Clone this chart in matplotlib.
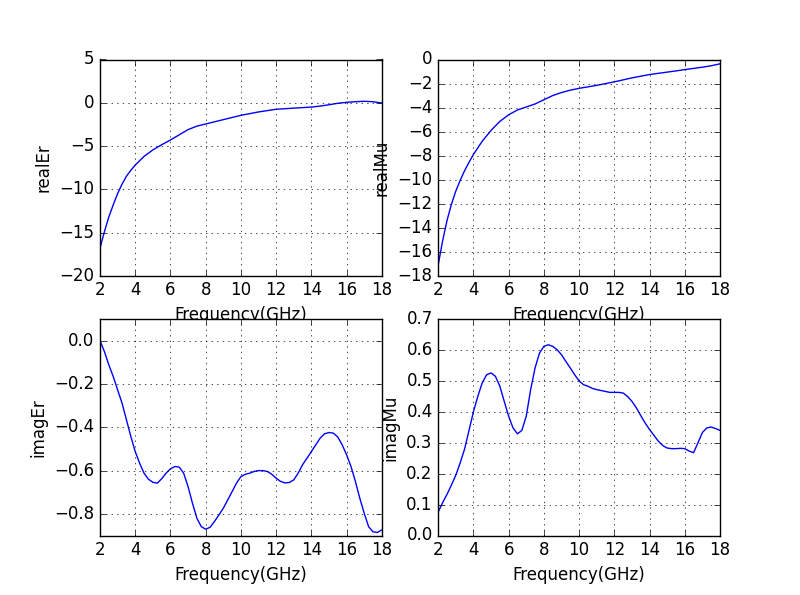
import matplotlib
matplotlib.use('Agg')
import matplotlib.pyplot as plt

plt.style.use('classic')

# real parts: denser sampling where the curves bend
freq_real = [2, 2.25, 2.5, 2.75, 3, 3.25, 3.5, 3.75, 4, 4.5, 5, 5.5, 6, 6.5, 7, 7.5,
             8, 8.5, 9, 9.5, 10, 11, 12, 13, 14, 14.5, 15, 15.5, 16, 16.5, 17, 17.5, 18]

realEr = [-16.8, -14.9, -13.2, -11.8, -10.5, -9.4, -8.5, -7.8, -7.2, -6.2, -5.45, -4.85,
          -4.3, -3.7, -3.1, -2.7, -2.45, -2.2, -1.95, -1.7, -1.45, -1.06, -0.75,
          -0.62, -0.5, -0.38, -0.23, -0.06, 0.05, 0.12, 0.17, 0.12, -0.02]

realMu = [-17.1, -15.1, -13.4, -12.05, -10.95, -10.05, -9.25, -8.55, -7.9, -6.8, -5.9,
          -5.15, -4.6, -4.2, -3.95, -3.7, -3.35, -3.0, -2.75, -2.55, -2.4, -2.15, -1.86,
          -1.53, -1.25, -1.15, -1.05, -0.95, -0.84, -0.74, -0.64, -0.52, -0.36]

# imaginary parts, read every 0.25 GHz
freq_imag = [2.0, 2.25, 2.5, 2.75, 3.0, 3.25, 3.5, 3.75, 4.0, 4.25, 4.5, 4.75, 5.0,
             5.25, 5.5, 5.75, 6.0, 6.25, 6.5, 6.75, 7.0, 7.25, 7.5, 7.75, 8.0, 8.25,
             8.5, 8.75, 9.0, 9.25, 9.5, 9.75, 10.0, 10.25, 10.5, 10.75, 11.0, 11.25,
             11.5, 11.75, 12.0, 12.25, 12.5, 12.75, 13.0, 13.25, 13.5, 13.75, 14.0,
             14.25, 14.5, 14.75, 15.0, 15.25, 15.5, 15.75, 16.0, 16.25, 16.5, 16.75,
             17.0, 17.25, 17.5, 17.75, 18.0]

imagEr = [0.0, -0.05, -0.111, -0.165, -0.227, -0.288, -0.365, -0.442, -0.512, -0.566,
          -0.612, -0.64, -0.654, -0.658, -0.638, -0.612, -0.592, -0.581, -0.584, -0.612,
          -0.674, -0.751, -0.82, -0.859, -0.871, -0.862, -0.835, -0.805, -0.774, -0.736,
          -0.697, -0.658, -0.628, -0.617, -0.612, -0.604, -0.6, -0.6, -0.604, -0.617,
          -0.635, -0.65, -0.657, -0.655, -0.643, -0.612, -0.573, -0.543, -0.512, -0.481,
          -0.45, -0.43, -0.424, -0.427, -0.445, -0.481, -0.527, -0.581, -0.65, -0.728,
          -0.797, -0.859, -0.883, -0.886, -0.874]

imagMu = [0.076, 0.106, 0.133, 0.163, 0.195, 0.235, 0.28, 0.34, 0.4, 0.45, 0.494, 0.52,
          0.526, 0.515, 0.483, 0.434, 0.386, 0.348, 0.329, 0.34, 0.386, 0.472, 0.542,
          0.59, 0.612, 0.617, 0.612, 0.601, 0.585, 0.563, 0.542, 0.52, 0.5, 0.488, 0.483,
          0.476, 0.472, 0.469, 0.466, 0.463, 0.463, 0.463, 0.461, 0.45, 0.434, 0.413,
          0.388, 0.364, 0.343, 0.324, 0.305, 0.291, 0.283, 0.281, 0.281, 0.282, 0.281,
          0.273, 0.268, 0.3, 0.333, 0.348, 0.351, 0.346, 0.34]

fig = plt.figure(figsize=(8, 5.95), dpi=100)

panels = [
    (freq_real, realEr, 'realEr', (-20, 5), None),
    (freq_real, realMu, 'realMu', (-18, 0), None),
    (freq_imag, imagEr, 'imagEr', (-0.9, 0.1), [-0.8, -0.6, -0.4, -0.2, 0.0]),
    (freq_imag, imagMu, 'imagMu', (0, 0.7), None),
]

for i, (f, vals, name, ylim, yt) in enumerate(panels):
    ax = fig.add_subplot(2, 2, i + 1)
    ax.plot(f, vals, 'b-')
    ax.set_xlim(2, 18)
    ax.set_ylim(*ylim)
    if yt is not None:
        ax.set_yticks(yt)
    ax.set_xlabel('Frequency(GHz)')
    ax.set_ylabel(name)
    ax.grid(True)

fig.savefig('out.png', dpi=100)
